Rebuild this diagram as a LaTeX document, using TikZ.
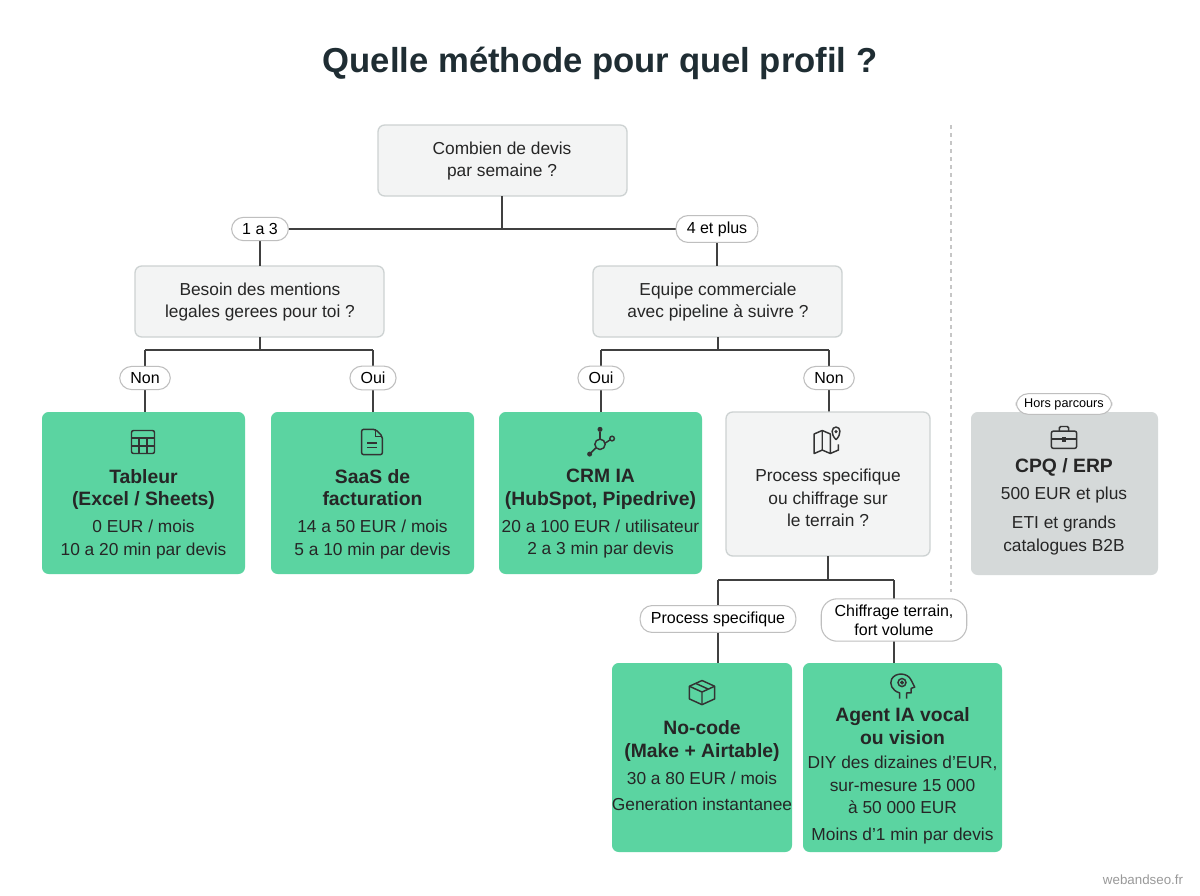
\documentclass[tikz,border=0pt]{standalone}
\usepackage{fontspec}
\setmainfont{Liberation Sans}
\newcommand{\bt}[1]{\textbf{\fontsize{14.5}{18}\selectfont #1}}
\begin{document}
\begin{tikzpicture}[x=0.75pt,y=-0.75pt,
  line width=1pt,
  ln/.style={draw=black!75, line width=1.1pt},
  q/.style={rounded corners=5pt, line width=1pt},
  pill/.style={draw=gray!50, fill=white, rounded corners=9pt, inner xsep=8pt, inner ysep=4.5pt, font=\fontsize{12}{14}\selectfont, align=center, line width=0.8pt},
  t/.style={font=\fontsize{13}{17}\selectfont, align=center, text=black!85},
  ic/.style={draw=black!80, line width=1.1pt}]
\definecolor{gr}{HTML}{5BD4A1}
\definecolor{gb}{HTML}{D5D9D9}
\definecolor{qf}{HTML}{F3F4F4}
\definecolor{qb}{HTML}{CDD2D2}
\definecolor{tc}{HTML}{1F2D33}
\useasboundingbox (0,0) rectangle (1200,896);
\fill[white] (0,0) rectangle (1200,896);
\node[font=\fontsize{26}{30}\selectfont\bfseries, text=tc] (title) at (600,63) {Quelle méthode pour quel profil ?};
% question boxes
\draw[q, fill=qf, draw=qb] (378,125) rectangle (627,196);
\node[t] (q1) at (502,161) {Combien de devis\\par semaine ?};
\draw[q, fill=qf, draw=qb] (135,266) rectangle (384,337);
\node[t] (q2) at (260,302) {Besoin des mentions\\legales gerees pour toi ?};
\draw[q, fill=qf, draw=qb] (593,266) rectangle (842,337);
\node[t] (q3) at (718,302) {Equipe commerciale\\avec pipeline à suivre ?};
% connectors level 1
\coordinate (a1) at (502,196); \coordinate (a2) at (502,229);
\coordinate (l1) at (260,229); \coordinate (r1) at (717,229);
\draw[ln] (a1)--(a2) (l1)--(r1) (l1)--(260,266) (r1)--(717,266);
\node[pill] (p1) at (l1) {1 a 3};
\node[pill] (p2) at (r1) {4 et plus};
% level 2 left
\draw[ln] (260,337)--(260,350) (145,350)--(373,350) (145,350)--(145,412) (373,350)--(373,412);
\node[pill] (p3) at (145,378) {Non};
\node[pill] (p4) at (373,378) {Oui};
% level 2 right
\draw[ln] (718,337)--(718,350) (601,350)--(829,350) (601,350)--(601,412) (829,350)--(829,412);
\node[pill] (p5) at (601,378) {Oui};
\node[pill] (p6) at (829,378) {Non};
% green boxes row
\fill[gr, rounded corners=5pt] (42,412) rectangle (245,574);
\node[t] (b1) at (143.5,514) {\bt{Tableur}\\\bt{(Excel / Sheets)}\\[3pt]0 EUR / mois\\10 a 20 min par devis};
\fill[gr, rounded corners=5pt] (271,412) rectangle (474,574);
\node[t] (b2) at (372.5,514) {\bt{SaaS de}\\\bt{facturation}\\[3pt]14 a 50 EUR / mois\\5 a 10 min par devis};
\fill[gr, rounded corners=5pt] (499,412) rectangle (702,574);
\node[t] (b3) at (600.5,514) {\bt{CRM IA}\\\bt{(HubSpot, Pipedrive)}\\[3pt]20 a 100 EUR / utilisateur\\2 a 3 min par devis};
\draw[q, fill=qf, draw=qb] (726,412) rectangle (930,556);
\node[t] (b4) at (828,498) {Process specifique\\ou chiffrage sur\\le terrain ?};
% icons row
\begin{scope}[shift={(143,442)}, scale=1.15]
 \draw[ic, rounded corners=1.5pt] (-10,-10) rectangle (10,10);
 \draw[ic] (-10,-3.5)--(10,-3.5) (-10,3.5)--(10,3.5) (-3.5,-3.5)--(-3.5,10) (3.5,-3.5)--(3.5,10);
\end{scope}
\begin{scope}[shift={(372,442)}, scale=1.15]
 \draw[ic, rounded corners=1.5pt] (-9,-11)--(3,-11)--(9,-5)--(9,11)--(-9,11)--cycle;
 \draw[ic] (3,-11)--(3,-5)--(9,-5) (-4,1)--(4,1) (-4,5)--(4,5);
\end{scope}
\begin{scope}[shift={(600,442)}, scale=1.15]
 \draw[ic] (0,2) circle (4.5);
 \draw[ic] (0,-2.5)--(0,-9); \fill[black!80] (0,-11) circle (2.2);
 \draw[ic] (-3.5,5)--(-8,9.5); \fill[black!80] (-9,10.5) circle (2.2);
 \draw[ic] (4.5,1)--(9,-2);\draw[ic] (10.5,-3) circle (2);
\end{scope}
\begin{scope}[shift={(828,442)}, scale=1.15]
 \draw[ic, line join=round] (-12,-7)--(-5,-10)--(2,-7)--(2,10)--(-5,7)--(-12,10)--cycle;
 \draw[ic] (-5,-10)--(-5,7) (2,10)--(9,7)--(9,2);
 \draw[ic] (7,-2) .. controls (2,-7) and (3,-13) .. (7,-13) .. controls (11,-13) and (12,-7) .. (7,-2);
 \fill[black!80] (7,-9) circle (1.5);
\end{scope}
% level 3
\draw[ln] (828,556)--(828,580) (718,580)--(894,580) (718,580)--(718,663) (894,580)--(894,663);
\node[pill] (p7) at (718,619) {Process specifique};
\node[pill, rounded corners=12pt, inner xsep=10pt] (p8) at (894,620) {Chiffrage terrain,\\fort volume};
\fill[gr, rounded corners=5pt] (612,663) rectangle (792,852);
\node[t] (b5) at (702,766) {\bt{No-code}\\\bt{(Make + Airtable)}\\[3pt]30 a 80 EUR / mois\\[3pt]Generation instantanee};
\fill[gr, rounded corners=5pt] (803,663) rectangle (1002,852);
\node[t] (b6) at (902.5,776) {\bt{Agent IA vocal}\\\bt{ou vision}\\[1pt]DIY des dizaines d'EUR,\\sur-mesure 15 000\\à 50 000 EUR\\[3pt]Moins d'1 min par devis};
\begin{scope}[shift={(702,692)}, scale=1.15]
 \draw[ic, line join=round] (-11,-5)--(0,-10)--(11,-5)--(11,6)--(0,11)--(-11,6)--cycle;
 \draw[ic, line join=round] (-11,-5)--(0,0)--(11,-5) (0,0)--(0,11) (-5.5,-7.5)--(5.5,-2.5);
\end{scope}
\begin{scope}[shift={(902,686)}, scale=1.15]
 \draw[ic, line join=round] (-2,11)--(-2,6) .. controls (-9,4) and (-11,-2) .. (-9,-6) .. controls (-6,-12) and (5,-12) .. (8,-5) -- (11,1)--(8,2)--(8,6)--(4,6)--(4,11);
 \draw[ic] (0,-3) circle (3.5);
 \draw[ic] (0,-3) circle (1);
\end{scope}
% out of path
\draw[gray!45, line width=1pt, dash pattern=on 3pt off 3pt] (951,125)--(951,592);
\fill[gb, rounded corners=5pt] (971,412) rectangle (1158,575);
\node[pill, font=\fontsize{9.5}{11}\selectfont, inner ysep=3.5pt, inner xsep=6pt] (p9) at (1064,404) {Hors parcours};
\node[t] (b7) at (1064,507) {\bt{CPQ / ERP}\\[3pt]500 EUR et plus\\[5pt]ETI et grands\\catalogues B2B};
\begin{scope}[shift={(1064,438)}, scale=1.15]
 \draw[ic, rounded corners=1.5pt] (-11,-6) rectangle (11,9);
 \draw[ic, rounded corners=1pt] (-4,-6)--(-4,-10)--(4,-10)--(4,-6);
 \draw[ic] (-11,1)--(11,1);
 \draw[ic] (-1.5,-0.5) rectangle (1.5,2.5);
\end{scope}
\node[font=\fontsize{10}{12}\selectfont, text=gray!80] (foot) at (1143,880) {webandseo.fr};
\end{tikzpicture}
\end{document}
